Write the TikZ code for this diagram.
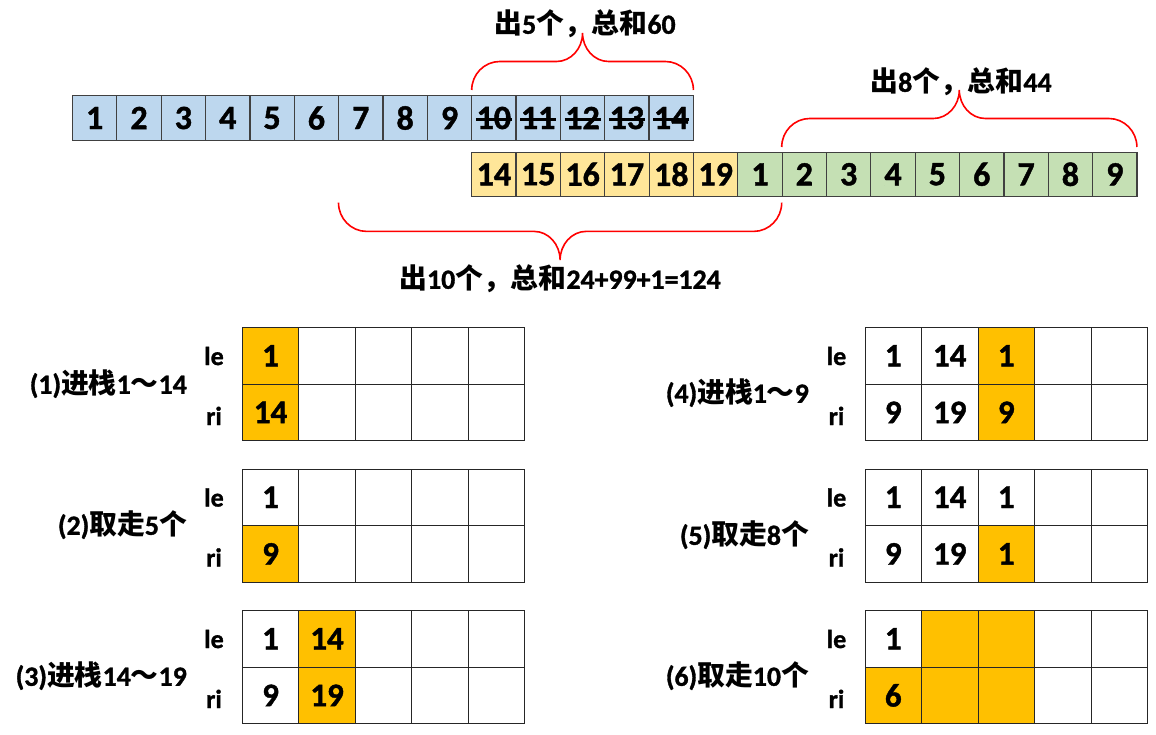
\documentclass[tikz,border=0pt]{standalone}
\usepackage{fontspec}
\setmainfont{Carlito}[BoldFont={Carlito Bold}, BoldFeatures={FakeBold=1.2}]
\newfontfamily\cjk{Noto Sans CJK SC}
\newcommand{\zh}[1]{{\cjk #1}}

\definecolor{cellblue}{HTML}{BDD7EE}
\definecolor{cellyellow}{HTML}{FFE699}
\definecolor{cellgreen}{HTML}{C5E0B4}
\definecolor{hot}{HTML}{FFC000}
\definecolor{edge}{HTML}{404040}

\tikzset{
  numcell/.style={draw=edge, line width=1.2pt, fill=#1, minimum width=44.35pt,
    minimum height=44.3pt, inner sep=0pt, font=\fontsize{34}{36}\selectfont\bfseries},
  slot/.style={draw=black!85, line width=1pt, minimum width=56.5pt,
    minimum height=56.6pt, inner sep=0pt, font=\fontsize{33}{35}\selectfont\bfseries},
  rowtag/.style={font=\fontsize{26}{28}\selectfont\bfseries, inner sep=0pt, anchor=base},
  stepnote/.style={font=\fontsize{27.8}{30}\selectfont\bfseries, inner sep=0pt},
  bracepen/.style={draw=red, line width=1.6pt}
}

% left x, right x, foot y, half height (negative: opens downward)
\newcommand{\redbrace}[4]{%
  \draw[bracepen] (#1,#3)
    .. controls (#1,{#3-0.55*(#4)}) and ({#1+12.6},{#3-(#4)}) .. ({#1+28},{#3-(#4)})
    -- ({(#1+#2)/2-26},{#3-(#4)})
    .. controls ({(#1+#2)/2-11.7},{#3-(#4)}) and ({(#1+#2)/2},{#3-1.45*(#4)}) .. ({(#1+#2)/2},{#3-2*(#4)})
    .. controls ({(#1+#2)/2},{#3-1.45*(#4)}) and ({(#1+#2)/2+11.7},{#3-(#4)}) .. ({(#1+#2)/2+26},{#3-(#4)})
    -- ({#2-28},{#3-(#4)})
    .. controls ({#2-12.6},{#3-(#4)}) and (#2,{#3-0.55*(#4)}) .. (#2,#3);
}

% name, left x, centre y, fill/text list
\newcommand{\slotrow}[4]{%
  \foreach \f/\t [count=\c] in {#4}
    \node[slot, fill=\f] (#1\c) at ({#2+56.5*(\c-0.5)},#3) {\t};
}

\begin{document}
\begin{tikzpicture}[x=1pt, y=-1pt]
  \useasboundingbox (0,0) rectangle (1156,735);

  % first run 1..14
  \foreach \i in {1,...,14}
    \node[numcell=cellblue] (top\i) at ({72.5+44.35*(\i-0.5)},118) {\i};
  \foreach \i in {10,...,14}
    \draw[line width=2.2pt] ([xshift=-18pt,yshift=-1.5pt]top\i.center) -- ([xshift=18pt,yshift=-1.5pt]top\i.center);

  % second run 14..19, 1..9
  \foreach \v [count=\k] in {14,...,19}
    \node[numcell=cellyellow] (low\k) at ({471.7+44.35*(\k-0.5)},174.3) {\v};
  \foreach \v [count=\k from 7] in {1,...,9}
    \node[numcell=cellgreen] (low\k) at ({471.7+44.35*(\k-0.5)},174.3) {\v};

  \redbrace{471.7}{693.4}{90}{28.5}
  \node[stepnote] (sum1) at (585,24) {\zh{出}5\zh{个，总和}60};

  \redbrace{781.7}{1136.9}{147}{28.5}
  \node[stepnote] (sum2) at (961,82) {\zh{出}8\zh{个，总和}44};

  \redbrace{338.5}{781.7}{202.7}{-28.7}
  \node[stepnote] (sum3) at (560,279) {\zh{出}10\zh{个，总和}24+99+1=124};

  % left stacks
  \slotrow{g1le}{242.3}{355.8}{hot/1, white/{}, white/{}, white/{}, white/{}}
  \slotrow{g1ri}{242.3}{412.4}{hot/14, white/{}, white/{}, white/{}, white/{}}
  \node[rowtag] (g1l) at (214,365) {le};
  \node[rowtag] (g1r) at (214,425) {ri};
  \node[stepnote, anchor=east] (cap1) at (187,384) {(1)\zh{进栈}1\zh{～}14};

  \slotrow{g2le}{242.3}{497.3}{white/1, white/{}, white/{}, white/{}, white/{}}
  \slotrow{g2ri}{242.3}{553.9}{hot/9, white/{}, white/{}, white/{}, white/{}}
  \node[rowtag] (g2l) at (214,506.5) {le};
  \node[rowtag] (g2r) at (214,566.5) {ri};
  \node[stepnote, anchor=east] (cap2) at (187,525) {(2)\zh{取走}5\zh{个}};

  \slotrow{g3le}{242.3}{638.8}{white/1, hot/14, white/{}, white/{}, white/{}}
  \slotrow{g3ri}{242.3}{695.4}{white/9, hot/19, white/{}, white/{}, white/{}}
  \node[rowtag] (g3l) at (214,648) {le};
  \node[rowtag] (g3r) at (214,708) {ri};
  \node[stepnote, anchor=east] (cap3) at (187,676) {(3)\zh{进栈}14\zh{～}19};

  % right stacks
  \slotrow{g4le}{865}{355.8}{white/1, white/14, hot/1, white/{}, white/{}}
  \slotrow{g4ri}{865}{412.4}{white/9, white/19, hot/9, white/{}, white/{}}
  \node[rowtag] (g4l) at (836.5,365) {le};
  \node[rowtag] (g4r) at (836.5,425) {ri};
  \node[stepnote, anchor=east] (cap4) at (809,393) {(4)\zh{进栈}1\zh{～}9};

  \slotrow{g5le}{865}{497.3}{white/1, white/14, white/1, white/{}, white/{}}
  \slotrow{g5ri}{865}{553.9}{white/9, white/19, hot/1, white/{}, white/{}}
  \node[rowtag] (g5l) at (836.5,506.5) {le};
  \node[rowtag] (g5r) at (836.5,566.5) {ri};
  \node[stepnote, anchor=east] (cap5) at (809,535) {(5)\zh{取走}8\zh{个}};

  \slotrow{g6le}{865}{638.8}{white/1, hot/{}, hot/{}, white/{}, white/{}}
  \slotrow{g6ri}{865}{695.4}{hot/6, hot/{}, hot/{}, white/{}, white/{}}
  \node[rowtag] (g6l) at (836.5,648) {le};
  \node[rowtag] (g6r) at (836.5,708) {ri};
  \node[stepnote, anchor=east] (cap6) at (809,676) {(6)\zh{取走}10\zh{个}};
\end{tikzpicture}
\end{document}
